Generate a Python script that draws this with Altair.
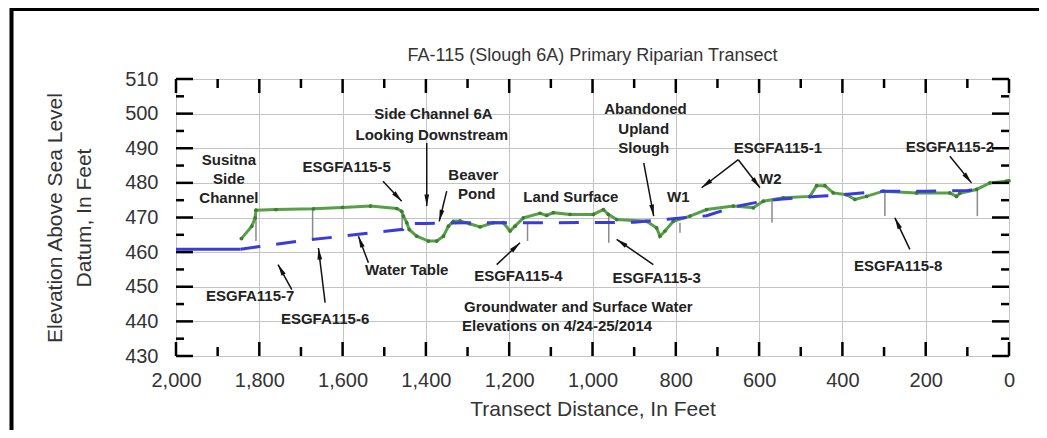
import math
import altair as alt
import pandas as pd

# ---------------- data ----------------
title_text = "FA-115 (Slough 6A) Primary Riparian Transect"

land_x = [1843, 1818, 1810, 1808, 1760, 1670, 1600, 1533, 1470, 1458, 1454, 1446, 1440,
          1422, 1394, 1374, 1358, 1346, 1334, 1318, 1295, 1270, 1238, 1214, 1198, 1186,
          1166, 1126, 1110, 1094, 1054, 998, 974, 962, 942, 870, 846, 838, 826, 806, 766,
          726, 662, 614, 590, 542, 478, 462, 442, 422, 390, 370, 342, 302, 222, 142, 126,
          118, 78, 46, 6, 0]
land_y = [463.9, 467.5, 469.9, 472.1, 472.3, 472.5, 472.9, 473.3, 472.6, 471.8, 470.4,
          468.5, 466.5, 464.6, 463.2, 463.2, 464.6, 467.5, 468.9, 469.0, 468.2, 467.3,
          468.5, 468.5, 466.1, 467.5, 469.9, 471.2, 470.6, 471.4, 470.9, 470.9, 472.3,
          470.9, 469.4, 468.9, 467.0, 464.6, 466.1, 468.9, 470.4, 472.3, 473.3, 472.8,
          474.7, 475.7, 476.1, 479.2, 479.2, 477.1, 476.6, 475.2, 476.1, 477.6, 477.1,
          477.1, 476.1, 477.0, 478.1, 480.0, 480.5, 480.6]

wt_solid_x = [2000, 1845]
wt_solid_y = [460.8, 460.8]

wt_x = [1845, 1800, 1700, 1600, 1530, 1455, 1452, 1400, 1300, 1100, 900, 820, 726, 662,
        600, 550, 447, 400, 303, 200, 100, 70]
wt_y = [460.8, 461.6, 463.3, 464.6, 465.6, 466.6, 468.2, 468.3, 468.5, 468.5, 468.6,
        469.5, 470.5, 473.0, 474.5, 475.3, 476.2, 476.6, 477.6, 477.6, 477.8, 478.1]

well_x = [1808, 1672, 1457, 1156, 961, 790, 569, 298, 76]
well_top = [472.3, 472.6, 472.0, 468.5, 470.5, 468.5, 475.2, 477.6, 478.1]
well_bot = [463.2, 463.7, 466.0, 463.2, 462.7, 465.6, 468.5, 470.4, 470.4]

lab_text = ["Susitna", "Side", "Channel", "ESGFA115-5", "Side Channel 6A",
            "Looking Downstream", "Beaver", "Pond", "Land Surface", "Abandoned",
            "Upland", "Slough", "W1", "ESGFA115-1", "W2", "ESGFA115-2", "ESGFA115-8",
            "Water Table", "ESGFA115-4", "ESGFA115-3", "Groundwater and Surface Water",
            "Elevations on 4/24-25/2014", "ESGFA115-7", "ESGFA115-6"]
lab_x = [1873, 1873, 1873, 1590, 1382, 1386, 1286, 1278, 1052, 873, 877, 877, 794, 555,
         573, 142, 266, 1446, 1178, 846, 1034, 1085, 1822, 1642]
lab_y = [486.7, 481.0, 475.5, 484.6, 499.9, 493.7, 482.4, 476.8, 475.9, 501.3, 495.6,
         490.1, 476.0, 490.1, 481.0, 490.4, 456.0, 454.8, 453.0, 452.6, 444.2, 438.6,
         447.3, 440.8]

arrow_x1 = [1722, 1642, 1503, 1398, 1350, 1538, 1230, 854, 877, 650, 650, 142, 238]
arrow_y1 = [449.2, 445.4, 480.5, 491.5, 477.6, 456.9, 456.4, 456.4, 485.8, 486.7, 486.7, 487.7, 460.8]
arrow_x2 = [1755, 1658, 1458, 1398, 1368, 1562, 1174, 942, 853, 738, 598, 90, 274]
arrow_y2 = [456.4, 461.2, 474.7, 473.3, 468.9, 464.6, 462.7, 463.7, 470.4, 478.6, 478.6, 480.0, 469.9]

x_major = list(range(0, 2001, 200))
x_minor = list(range(100, 2000, 200))
y_major = list(range(430, 511, 10))
y_minor = list(range(435, 510, 10))

# ---------------- layout ----------------
W, H = 833, 277
X_DOM = [0, 2000]
Y_DOM = [430, 510]
FONT = "Liberation Sans"
TXT = "#333333"

xscale = alt.Scale(domain=X_DOM, reverse=True, nice=False, zero=False)
yscale = alt.Scale(domain=Y_DOM, nice=False, zero=False)
xaxis = alt.Axis(values=x_major, format=",d", grid=True, gridColor="#c4c4c4", gridWidth=1,
                 ticks=False, domain=False, labelFont=FONT, labelFontSize=20,
                 labelColor=TXT, labelPadding=14, labelFlush=False, labelOverlap=False,
                 title="Transect Distance, In Feet", titleFont=FONT, titleFontSize=21,
                 titleFontWeight="normal", titleColor=TXT, titlePadding=8)
yaxis = alt.Axis(values=y_major, grid=True, gridColor="#c4c4c4", gridWidth=1,
                 ticks=False, domain=False, labelFont=FONT, labelFontSize=20,
                 labelColor=TXT, labelPadding=18, labelFlush=False, labelOverlap=False,
                 title=["Elevation Above Sea Level", "Datum, In Feet"], titleFont=FONT,
                 titleFontSize=21, titleFontWeight="normal", titleColor=TXT,
                 titleLineHeight=29, titlePadding=30)


def X(f="x"):
    return alt.X(f"{f}:Q", scale=xscale, axis=xaxis)


def Y(f="y"):
    return alt.Y(f"{f}:Q", scale=yscale, axis=yaxis)


# pixel direction of arrows for the arrowhead rotation
sx = W / (X_DOM[1] - X_DOM[0])
sy = H / (Y_DOM[1] - Y_DOM[0])
angles = []
for a, b, c, d in zip(arrow_x1, arrow_y1, arrow_x2, arrow_y2):
    dx = -(c - a) * sx
    dy = -(d - b) * sy
    angles.append(math.degrees(math.atan2(dx, -dy)) % 360)

land = pd.DataFrame({"x": land_x, "y": land_y})
wt_solid = pd.DataFrame({"x": wt_solid_x, "y": wt_solid_y})
wt = pd.DataFrame({"x": wt_x, "y": wt_y})
wells = pd.DataFrame({"x": well_x, "y": well_top, "y2": well_bot})
labels = pd.DataFrame({"x": lab_x, "y": lab_y, "t": lab_text})
arrows = pd.DataFrame({"x": arrow_x1, "y": arrow_y1, "x2": arrow_x2, "y2": arrow_y2,
                       "ang": angles})
ymaj = pd.DataFrame({"y": y_major})
ymin = pd.DataFrame({"y": y_minor})
xmaj = pd.DataFrame({"x": x_major})
xmin = pd.DataFrame({"x": x_minor})

layers = []
# wells (also carries the axes)
layers.append(alt.Chart(wells).mark_rule(color="#8a8a8a", strokeWidth=1.5).encode(
    x=X(), y=Y(), y2=alt.Y2("y2")))
# land surface
layers.append(alt.Chart(land).mark_line(color="#58a048", strokeWidth=3).encode(x=X(), y=Y()))
layers.append(alt.Chart(land).mark_circle(color="#3d7d30", size=14, opacity=1).encode(x=X(), y=Y()))
# water table
layers.append(alt.Chart(wt_solid).mark_line(color="#3b3bdc", strokeWidth=3).encode(x=X(), y=Y()))
layers.append(alt.Chart(wt).mark_line(color="#3b3bdc", strokeWidth=3, strokeDash=[20, 16]).encode(
    x=X(), y=Y()))
# arrows
layers.append(alt.Chart(arrows).mark_rule(color="#111111", strokeWidth=1.5).encode(
    x=X(), y=Y(), x2=alt.X2("x2"), y2=alt.Y2("y2")))
layers.append(alt.Chart(arrows).mark_point(
    shape="M0,0L0.45,2.2L-0.45,2.2Z", filled=True, color="#111111", opacity=1, size=110).encode(
    x=X("x2"), y=Y("y2"), angle=alt.Angle("ang:Q", scale=None)))
# annotation text
layers.append(alt.Chart(labels).mark_text(font=FONT, fontSize=15, fontWeight="bold",
                                           color="#222222", align="center",
                                           baseline="middle").encode(
    x=X(), y=Y(), text="t:N"))
# inward ticks (left/right/top/bottom)
layers.append(alt.Chart(ymaj).mark_rule(color="black", strokeWidth=2.5).encode(
    y=Y(), x=alt.value(0), x2=alt.value(17)))
layers.append(alt.Chart(ymin).mark_rule(color="black", strokeWidth=2.5).encode(
    y=Y(), x=alt.value(0), x2=alt.value(8)))
layers.append(alt.Chart(ymaj).mark_rule(color="black", strokeWidth=2.5).encode(
    y=Y(), x=alt.value(W - 17), x2=alt.value(W)))
layers.append(alt.Chart(ymin).mark_rule(color="black", strokeWidth=2.5).encode(
    y=Y(), x=alt.value(W - 8), x2=alt.value(W)))
layers.append(alt.Chart(xmaj).mark_rule(color="black", strokeWidth=2.5).encode(
    x=X(), y=alt.value(0), y2=alt.value(14)))
layers.append(alt.Chart(xmin).mark_rule(color="black", strokeWidth=2.5).encode(
    x=X(), y=alt.value(0), y2=alt.value(9)))
layers.append(alt.Chart(xmaj).mark_rule(color="black", strokeWidth=2.5).encode(
    x=X(), y=alt.value(H - 14), y2=alt.value(H)))
layers.append(alt.Chart(xmin).mark_rule(color="black", strokeWidth=2.5).encode(
    x=X(), y=alt.value(H - 9), y2=alt.value(H)))
# chart title (as text so the decorative frame does not push it away)
layers.append(alt.Chart(pd.DataFrame({"t": [title_text]})).mark_text(
    font=FONT, fontSize=18, color=TXT, align="center", baseline="middle").encode(
    x=alt.value(W / 2), y=alt.value(-23), text="t:N"))
# picture frame (decorative)
layers.append(alt.Chart(pd.DataFrame({"k": [0]})).mark_rect(
    fillOpacity=0, stroke="black", strokeWidth=4).encode(
    x=alt.value(-164.5), x2=alt.value(W + 60), y=alt.value(-70), y2=alt.value(H + 120)))

chart = alt.layer(*layers).properties(
    width=W, height=H,
    padding={"left": 168, "top": 71, "right": 30, "bottom": 74},
    autosize=alt.AutoSizeParams(type="none"),
).configure_view(stroke="black", strokeWidth=2.5).configure(background="white")

chart.save("out.html", embed_options={"renderer": "svg", "actions": False})
